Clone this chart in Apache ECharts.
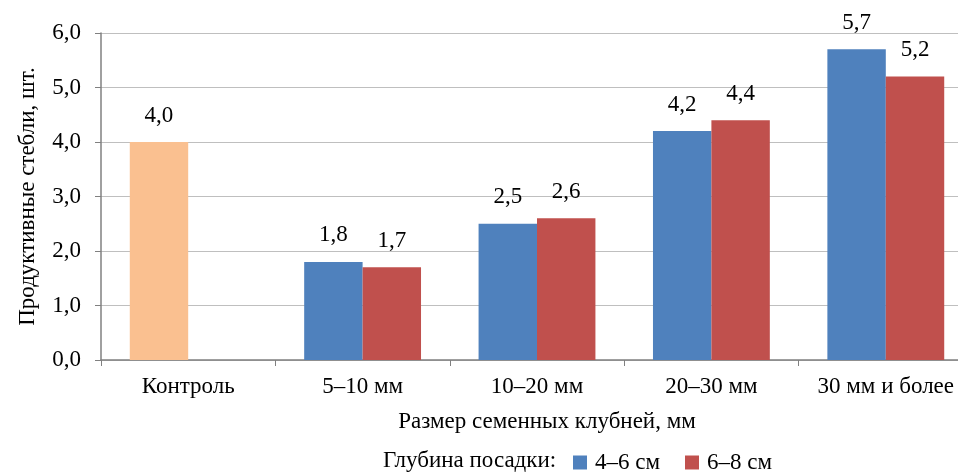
<!DOCTYPE html>
<html style="height: 100%">
<head>
	<meta charset="utf-8">
</head>
<body style="height: 100%; margin: 0; background: #fff">
<div id="container" style="width: 958px; height: 472px"></div>
<script src="https://cdn.jsdelivr.net/npm/echarts@6/dist/echarts.min.js"></script>
<script type="text/javascript">
	var categories = ['Контроль', '5–10 мм', '10–20 мм', '20–30 мм', '30 мм и более'];
	var depth46 = [4.0, 1.8, 2.5, 4.2, 5.7];
	var depth68 = [null, 1.7, 2.6, 4.4, 5.2];
	var seriesNames = ['4–6 см', '6–8 см'];
	var yTicks = [0, 1, 2, 3, 4, 5, 6];

	var font = 'Liberation Serif';
	var fs = 23;
	function comma(v) {
		return Number(v).toFixed(1).replace('.', ',');
	}

	// first category is the control, drawn in its own colour
	var blueData = depth46.map(function (v, i) {
		if (i === 0) return {value: v, itemStyle: {color: '#FAC090'}};
		return v;
	});

	var dom = document.getElementById("container");
	var myChart = echarts.init(dom);
	var labelStyle = {
		show: true,
		position: 'top',
		distance: 15,
		color: '#000',
		fontFamily: font,
		fontSize: fs,
		formatter: function (p) { return comma(p.value); }
	};

	var option = {
		animation: false,
		textStyle: {fontFamily: font},
		grid: {
			left: 101,
			right: -15,   // plot runs past the right edge of the picture
			top: 33,
			bottom: 112,
			outerBoundsMode: 'none'
		},
		legend: {
			left: 573,
			top: 451,
			padding: 0,
			itemWidth: 14,
			itemHeight: 14,
			itemGap: 25,
			icon: 'rect',
			textStyle: {fontFamily: font, fontSize: fs, color: '#000', padding: [0, 0, 0, 3]},
			data: seriesNames
		},
		graphic: [{
			type: 'text',
			left: 383,
			top: 449,
			style: {text: 'Глубина посадки:', font: fs + 'px "Liberation Serif"', fill: '#000'}
		}],
		xAxis: {
			type: 'category',
			data: categories,
			name: 'Размер семенных клубней, мм',
			nameLocation: 'middle',
			nameGap: 50,
			nameTextStyle: {fontFamily: font, fontSize: fs, color: '#000', padding: [0, 0, 0, 20]},
			axisLine: {lineStyle: {color: '#808080', width: 1.5}},
			axisTick: {show: true, length: 6, lineStyle: {color: '#808080'}},
			axisLabel: {fontFamily: font, fontSize: fs, color: '#000', margin: 15, interval: 0}
		},
		yAxis: {
			type: 'value',
			min: yTicks[0],
			max: yTicks[yTicks.length - 1],
			interval: 1,
			name: 'Продуктивные стебли, шт.',
			nameLocation: 'middle',
			nameGap: 62,
			nameTextStyle: {fontFamily: font, fontSize: fs, color: '#000'},
			axisLine: {show: true, lineStyle: {color: '#808080', width: 1.5}},
			axisTick: {show: true, length: 6, lineStyle: {color: '#808080'}},
			splitLine: {lineStyle: {color: '#BFBFBF'}},
			axisLabel: {
				fontFamily: font, fontSize: fs, color: '#000', margin: 20,
				formatter: function (v) { return comma(v); }
			}
		},
		series: [
			{
				name: seriesNames[0],
				type: 'bar',
				data: blueData,
				barGap: '0%',
				barCategoryGap: '33%',
				itemStyle: {color: '#4F81BD'},
				label: labelStyle
			},
			{
				name: seriesNames[1],
				type: 'bar',
				data: depth68,
				itemStyle: {color: '#C0504D'},
				label: labelStyle
			}
		]
	};

	myChart.setOption(option, true);
</script>
</body>
</html>
